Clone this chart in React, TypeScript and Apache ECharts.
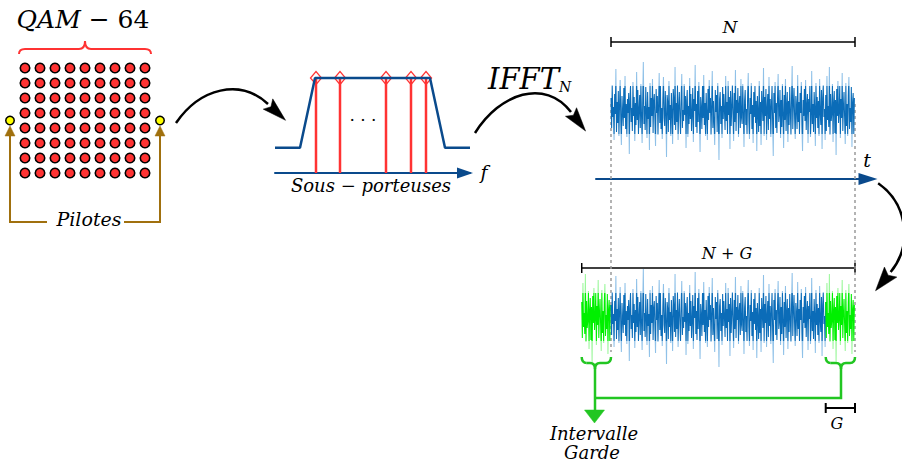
import React, { useEffect, useRef } from "react";
import * as echarts from "echarts";

// QAM-64 constellation (columns x rows) and pilot tones
const qamCols = [0, 1, 2, 3, 4, 5, 6, 7, 8];
const qamRows = [0, 1, 2, 3, 4, 5, 6, 7];
const pilotCols = [-1, 9];
const pilotRow = 3.5;

// Spectrum envelope and sub-carriers
const specX = [0, 5, 8, 31, 34, 39];
const specY = [0, 0, 1, 1, 0, 0];
const carriers = [8.2, 13, 22.2, 27.2, 30.2];
const carrierLevel = 1;
const SPEC_YMIN = -0.36;

// OFDM symbol samples (time domain)
const sym = [
  12, -18, 25, -7, 3, -30, 16, -4, 41, -22, 8, -13, 19, -26, 5, 30, -9, -35, 14, -2,
  -16, 22, -8, 34, -19, 6, -27, 11, -3, 17, -44, 9, 24, -12, 2, -21, 28, -6, 13, -31,
  7, -15, 38, -10, 20, -24, 1, 15, -18, 26, -5, -33, 10, 48, -14, 4, -20, 23, -1, -28,
  18, -9, 3, -40, 27, -17, 12, -6, 31, -23, 9, 16, -11, -36, 21, -3, 14, -25, 6, 37,
  -13, 24, -19, 2, -29, 11, 33, -8, -16, 19, -4, -47, 15, 8, -22, 29, -10, 5, -26, 17,
  -2, -34, 21, 10, -15, 43, -20, 7, -12, 25, -30, 3, 18, -7, -24, 12, 36, -18, 0, -11,
  26, -5, 14, -38, 9, 20, -27, 4, -14, 32, -9, 16, -21, -3, 22, -32, 11, -1, 45, -17,
  6, -23, 19, -12, 28, -6, -42, 13, 2, -19, 24, -8, 35, -15, 7, -26, 17, -4, -30, 21,
  -10, 30, -3, 12, -25, 5, 39, -18, 9, -13, -35, 20, -2, 15, -22, 27, -7, -50, 11, 18,
  -14, 4, -28, 23, -9, 16, -1, -20, 34, -11, 8, -24, 29, -5, 13, -39, 19, -16, 3, 25,
  -6, -31, 17, -12, 40, -21, 10, -3, 22, -27, 6, 14, -18, 31, -8, -14, 26, -2, -37, 9,
  20, -15, 1, -24, 15, 37, -10, -29, 12, -4, 27, -19, 5, -33, 18, -7, 24, -13, 9, -41,
  14, -2, -22, 29, -16, 8, -35, 19, 3, -11, 42, -26, 13, -6, 21, -30, 2, 16, -20, 33,
  -9, 11, -27, 5, 24, -14, -46, 17, -3, 28, -18, 7, -23, 12, 36, -12, -4, 20, -28, 10,
  -17, 26, -5, -38, 15, -10, 31, -21, 4, 18, -32, 9, -15, 23, -1, -25, 13, 44, -19, 6,
  22, -8, -29, 14, 3, -19, 35, -12, 8, -24, 17, -3, 28, -16, -41, 10, -6, 21, -11, 30,
  -20, 5, 16, -33, 11, -2, 24, -27, -9, 39, -14, 6, -22, 18, 2, -36, 27, -8, 13, -18,
  9, -26, 31, -4, -15, 20, -39, 12, 25, -7, 1, -30, 15, -21, 34, -10, 4, -17, 43, -25,
  16, -11, -3, 26, -32, 7, 19, -23, 10, -45, 21, -6, 29, -13, -1, 24, -28, 11, -8, 37,
  -21, 3, 18, -9, -34, 27, -16, 6, -26, 14, 33, -19, 2, -12, 23, -37, 8, 17, -24, 12,
];
const guardLen = 48;

// Layout (pixels)
const SIG_LEFT = 611;
const SIG_RIGHT = 855;
const TAXIS_LEFT = 596;
const TAXIS_END = 868;

const RED = "#ff3333";
const DARKBLUE = "#0a4a8c";
const SIGBLUE = "#0b6cb8";
const SIGBLUE_LIGHT = "#8fc1e8";
const SIGGREEN = "#00f000";
const SIGGREEN_LIGHT = "#9cf79c";
const GREEN = "#22c622";
const BROWN = "#a0700e";
const SERIF = '"DejaVu Serif"';
const CORE = 24;

function arrowHead(tx: number, ty: number, dx: number, dy: number, len: number, half: number, color: string, notch = 3) {
  const n = Math.hypot(dx, dy);
  const ux = dx / n, uy = dy / n;
  const bx = tx - ux * len, by = ty - uy * len;
  const px = -uy, py = ux;
  return {
    type: "polygon",
    shape: { points: [[tx, ty], [bx + px * half, by + py * half], [bx + ux * notch, by + uy * notch], [bx - px * half, by - py * half]] },
    style: { fill: color, stroke: color, lineWidth: 0.5 },
  };
}

function bezArrow(p0: number[], c1: number[], c2: number[], p3: number[], len: number, half: number) {
  const dx = p3[0] - c2[0], dy = p3[1] - c2[1];
  const n = Math.hypot(dx, dy);
  const tip = [p3[0] + (dx / n) * len, p3[1] + (dy / n) * len];
  return [
    { type: "bezierCurve", shape: { x1: p0[0], y1: p0[1], cpx1: c1[0], cpy1: c1[1], cpx2: c2[0], cpy2: c2[1], x2: p3[0], y2: p3[1] }, style: { stroke: "#000", lineWidth: 2.5, fill: "none" } },
    arrowHead(tip[0], tip[1], dx, dy, len, half, "#000", 4),
  ];
}

function brace(x0: number, x1: number, xc: number, yEnd: number, yMid: number, yTip: number, r: number, color: string, w: number) {
  const s = { stroke: color, lineWidth: w, fill: "none" };
  return [
    { type: "bezierCurve", shape: { x1: x0, y1: yEnd, cpx1: x0, cpy1: yMid, x2: x0 + r, y2: yMid }, style: s },
    { type: "line", shape: { x1: x0 + r, y1: yMid, x2: xc - r, y2: yMid }, style: s },
    { type: "bezierCurve", shape: { x1: xc - r, y1: yMid, cpx1: xc, cpy1: yMid, x2: xc, y2: yTip }, style: s },
    { type: "bezierCurve", shape: { x1: xc, y1: yTip, cpx1: xc, cpy1: yMid, x2: xc + r, y2: yMid }, style: s },
    { type: "line", shape: { x1: xc + r, y1: yMid, x2: x1 - r, y2: yMid }, style: s },
    { type: "bezierCurve", shape: { x1: x1 - r, y1: yMid, cpx1: x1, cpy1: yMid, x2: x1, y2: yEnd }, style: s },
  ];
}

function bracket(x0: number, x1: number, y: number, h: number, w: number) {
  const s = { stroke: "#000", lineWidth: w };
  return [
    { type: "line", shape: { x1: x0, y1: y, x2: x1, y2: y }, style: s },
    { type: "line", shape: { x1: x0, y1: y - h, x2: x0, y2: y + h }, style: s },
    { type: "line", shape: { x1: x1, y1: y - h, x2: x1, y2: y + h }, style: s },
  ];
}

function txt(text: string, x: number, y: number, size: number, italic = true, align = "center") {
  return {
    type: "text",
    x,
    y,
    style: {
      text,
      font: `${italic ? "italic " : ""}${size}px ${SERIF}`,
      fill: "#000",
      textAlign: align,
      textVerticalAlign: "middle",
      verticalAlign: "middle",
    },
  };
}

function richTxt(text: string, x: number, y: number, size: number, align = "center") {
  return {
    type: "text",
    x,
    y,
    style: {
      text,
      fill: "#000",
      textAlign: align,
      textVerticalAlign: "middle",
      verticalAlign: "middle",
      rich: {
        i: { fontStyle: "italic", fontSize: size, fontFamily: "DejaVu Serif", fill: "#000" },
        r: { fontStyle: "normal", fontSize: size, fontFamily: "DejaVu Serif", fill: "#000" },
      },
    },
  };
}

export default function App() {
  const ref = useRef<HTMLDivElement>(null);
  useEffect(() => {
    if (!ref.current) return;
    const chart = echarts.init(ref.current, undefined, { renderer: "svg" });
    const n = sym.length;
    const ppx = (SIG_RIGHT - SIG_LEFT) / n;
    const gLeft = SIG_LEFT - guardLen * ppx;
    const gStartRight = SIG_RIGHT - guardLen * ppx;

    const qamData: number[][] = [];
    qamRows.forEach((r) => qamCols.forEach((c) => qamData.push([c, r])));

    const topData = sym.map((v, i) => [i, v]);
    const prefixData = sym.slice(n - guardLen).map((v, k) => [k - guardLen, v]);
    const midData = sym.slice(0, n - guardLen + 1).map((v, i) => [i, v]);
    const tailData = sym.slice(n - guardLen).map((v, k) => [n - guardLen + k, v]);

    const hidden = { show: false };
    const axisArrow = (size: number[], offset: number) => ({
      show: true,
      onZero: false,
      symbol: ["none", "triangle"],
      symbolSize: size,
      symbolOffset: [0, offset],
      lineStyle: { color: DARKBLUE, width: 2 },
    });

    const graphics: any[] = [
      // dashed guides
      { type: "line", z: 1, shape: { x1: SIG_LEFT, y1: 104, x2: SIG_LEFT, y2: 352 }, style: { stroke: "#9a9a9a", lineWidth: 1.5, lineDash: [3, 3] } },
      { type: "line", z: 1, shape: { x1: SIG_RIGHT, y1: 104, x2: SIG_RIGHT, y2: 352 }, style: { stroke: "#9a9a9a", lineWidth: 1.5, lineDash: [3, 3] } },
      // QAM label and brace
      richTxt("{i|QAM}{r| − 64}", 83, 19, 25),
      ...brace(19, 151, 85, 54, 49, 41, 6, RED, 2),
      // Pilot arrows
      { type: "polyline", shape: { points: [[47, 222], [10, 222], [10, 134]] }, style: { stroke: BROWN, lineWidth: 2, fill: "none" } },
      { type: "polyline", shape: { points: [[124, 222], [160, 222], [160, 134]] }, style: { stroke: BROWN, lineWidth: 2, fill: "none" } },
      arrowHead(10, 126, 0, -1, 10, 5, BROWN, 0),
      arrowHead(160, 126, 0, -1, 10, 5, BROWN, 0),
      txt("Pilotes", 89, 219, 19),
      // Curved arrows
      ...bezArrow([176, 123], [200, 88], [240, 78], [268, 104], 24, 7),
      ...bezArrow([475, 133], [500, 93], [545, 78], [571, 112], 24, 7),
      { type: "arc", shape: { cx: 843, cy: 233.5, r: 61.3, startAngle: (-55 * Math.PI) / 180, endAngle: (39 * Math.PI) / 180, clockwise: true }, style: { stroke: "#000", lineWidth: 2.5, fill: "none" } },
      arrowHead(
        843 + 61.3 * Math.cos((39 * Math.PI) / 180) - 24 * Math.sin((39 * Math.PI) / 180),
        233.5 + 61.3 * Math.sin((39 * Math.PI) / 180) + 24 * Math.cos((39 * Math.PI) / 180),
        -Math.sin((39 * Math.PI) / 180),
        Math.cos((39 * Math.PI) / 180),
        24,
        8,
        "#000",
        4
      ),
      // Spectrum labels
      txt(". . .", 363, 115, 17, false),
      txt("f", 484, 172, 19),
      richTxt("{i|Sous}{r| − }{i|porteuses}", 371, 185, 18),
      txt("IFFT", 488, 79, 29, true, "left"),
      txt("N", 559, 87, 14, true, "left"),
      // Time-domain annotations
      ...bracket(SIG_LEFT, SIG_RIGHT, 42, 5, 1.5),
      txt("N", 730, 27, 17),
      txt("t", 867, 160, 19),
      ...bracket(gLeft, SIG_RIGHT, 268, 5, 1.5),
      txt("N + G", 727, 253, 16),
      ...bracket(gStartRight, SIG_RIGHT, 408, 5, 2),
      txt("G", 837, 423, 16),
      // Guard interval braces and arrow
      ...brace(gLeft, SIG_LEFT, 595, 357, 363, 369, 5, GREEN, 2.5),
      ...brace(gStartRight, SIG_RIGHT, 841, 357, 363, 369, 5, GREEN, 2.5),
      { type: "polyline", shape: { points: [[595, 369], [595, 411]] }, style: { stroke: GREEN, lineWidth: 2.5, fill: "none" } },
      { type: "polyline", shape: { points: [[594, 398], [841, 398], [841, 369]] }, style: { stroke: GREEN, lineWidth: 2.5, fill: "none" } },
      arrowHead(594.5, 423, 0, 1, 13, 10, GREEN, 0),
      txt("Intervalle", 594, 433, 18),
      txt("Garde", 592, 452, 18),
    ];

    const sigLine = { type: "line", symbol: "none", clip: false, lineStyle: { width: 1.05 } };

    chart.setOption({
      animation: false,
      backgroundColor: "#fff",
      grid: [
        { left: 10, top: 68, width: 150, height: 105 },
        { left: 275, top: 78, width: 195, height: 95 },
        { left: TAXIS_LEFT, top: 40, width: TAXIS_END - TAXIS_LEFT, height: 139 },
        { left: gLeft, top: 250, width: (n + guardLen) * ppx, height: 134 },
      ],
      xAxis: [
        { gridIndex: 0, type: "value", min: -1, max: 9, ...hidden },
        { gridIndex: 1, type: "value", min: 0, max: 39, axisLine: axisArrow([11, 16], -5), axisTick: hidden, axisLabel: hidden, splitLine: hidden },
        {
          gridIndex: 2,
          type: "value",
          min: -(SIG_LEFT - TAXIS_LEFT) / ppx,
          max: (TAXIS_END - SIG_LEFT) / ppx,
          axisLine: axisArrow([12, 19], 0),
          axisTick: hidden,
          axisLabel: hidden,
          splitLine: hidden,
        },
        { gridIndex: 3, type: "value", min: -guardLen, max: n, ...hidden },
      ],
      yAxis: [
        { gridIndex: 0, type: "value", min: 0, max: 7, inverse: true, ...hidden },
        { gridIndex: 1, type: "value", min: SPEC_YMIN, max: 1, ...hidden },
        { gridIndex: 2, type: "value", min: -69, max: 70, ...hidden },
        { gridIndex: 3, type: "value", min: -67, max: 67, ...hidden },
      ],
      visualMap: [
        {
          type: "piecewise", show: false, seriesIndex: [5, 7], dimension: 1,
          pieces: [
            { lt: -CORE, color: SIGBLUE_LIGHT },
            { gte: -CORE, lte: CORE, color: SIGBLUE },
            { gt: CORE, color: SIGBLUE_LIGHT },
          ],
        },
        {
          type: "piecewise", show: false, seriesIndex: [6, 8], dimension: 1,
          pieces: [
            { lt: -CORE, color: SIGGREEN_LIGHT },
            { gte: -CORE, lte: CORE, color: SIGGREEN },
            { gt: CORE, color: SIGGREEN_LIGHT },
          ],
        },
      ],
      series: [
        {
          type: "scatter", xAxisIndex: 0, yAxisIndex: 0, data: qamData, symbolSize: 9.5, clip: false,
          itemStyle: { color: RED, borderColor: "#000", borderWidth: 1.6, opacity: 1 },
        },
        {
          type: "scatter", xAxisIndex: 0, yAxisIndex: 0, data: pilotCols.map((c) => [c, pilotRow]), symbolSize: 8.5, clip: false,
          itemStyle: { color: "#ffff00", borderColor: "#000", borderWidth: 1.5, opacity: 1 },
        },
        {
          type: "custom", xAxisIndex: 1, yAxisIndex: 1, data: carriers.map((x) => [x, carrierLevel]), clip: false,
          renderItem: (_p: any, api: any) => {
            const top = api.coord([api.value(0), api.value(1)]);
            const bot = api.coord([api.value(0), SPEC_YMIN]);
            return { type: "line", shape: { x1: top[0], y1: top[1], x2: bot[0], y2: bot[1] }, style: { stroke: RED, lineWidth: 2.5 } };
          },
        },
        {
          type: "line", xAxisIndex: 1, yAxisIndex: 1, data: specX.map((x, i) => [x, specY[i]]), symbol: "none", clip: false,
          lineStyle: { color: DARKBLUE, width: 2.5 },
        },
        {
          type: "scatter", xAxisIndex: 1, yAxisIndex: 1, data: carriers.map((x) => [x, carrierLevel]), symbol: "diamond", symbolSize: [11, 13], clip: false,
          itemStyle: { color: "rgba(255,255,255,0)", borderColor: RED, borderWidth: 1.3, opacity: 1 },
        },
        { ...sigLine, xAxisIndex: 2, yAxisIndex: 2, data: topData },
        { ...sigLine, xAxisIndex: 3, yAxisIndex: 3, data: prefixData },
        { ...sigLine, xAxisIndex: 3, yAxisIndex: 3, data: midData },
        { ...sigLine, xAxisIndex: 3, yAxisIndex: 3, data: tailData },
      ],
      graphic: { elements: graphics },
    });
    return () => chart.dispose();
  }, []);
  return <div ref={ref} style={{ position: "absolute", left: 0, top: 0, width: 902, height: 466 }} />;
}
